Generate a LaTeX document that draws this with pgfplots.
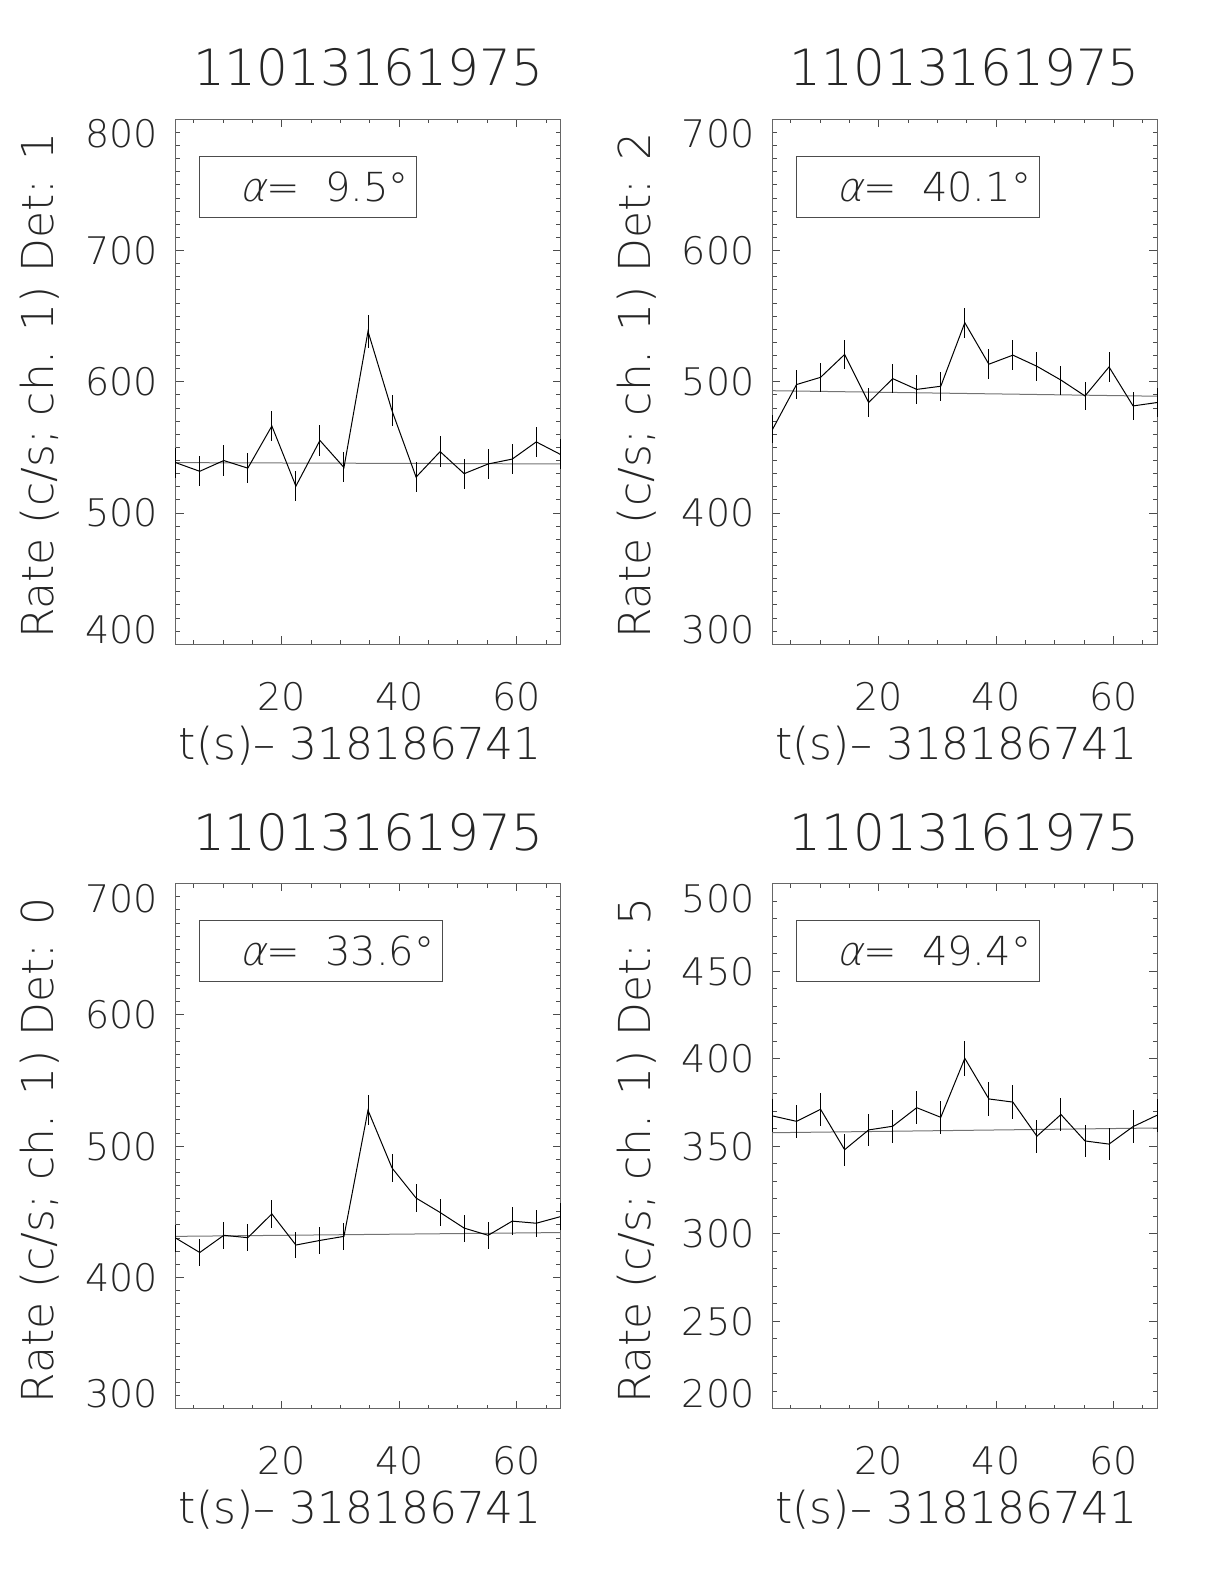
\documentclass[border=0pt]{standalone}
\usepackage{pgfplots}
\pgfplotsset{compat=1.18}
\usepackage{pgfplotstable}
\usepackage{fontspec}
\setmainfont{DejaVuSans-ExtraLight}[Extension=.ttf]
\newfontfamily\slantfont{DejaVuSans-ExtraLight}[Extension=.ttf, FakeSlant=0.25]
\newcommand{\ticksize}{\fontsize{19}{19}\selectfont}
\newcommand{\boxsize}{\fontsize{20}{20}\selectfont}

\pgfplotstableread{
x y e
1.900 538.4 11.46
5.996 531.8 11.40
10.092 540.0 11.48
14.188 534.2 11.42
18.284 566.3 11.76
22.380 520.5 11.27
26.476 555.3 11.64
30.572 534.7 11.43
34.668 638.4 12.48
38.764 577.9 11.88
42.860 527.4 11.35
46.956 546.8 11.55
51.052 530.0 11.38
55.148 537.4 11.45
59.244 541.1 11.49
63.340 554.2 11.63
67.436 544.7 11.53
}\dataA

\pgfplotstableread{
x y e
1.900 463.7 10.64
5.996 497.9 11.03
10.092 503.4 11.09
14.188 520.8 11.28
18.284 484.2 10.87
22.380 502.4 11.08
26.476 494.2 10.98
30.572 496.6 11.01
34.668 545.0 11.53
38.764 513.4 11.20
42.860 520.3 11.27
46.956 511.8 11.18
51.052 501.3 11.06
55.148 489.2 10.93
59.244 511.3 11.17
63.340 481.6 10.84
67.436 484.2 10.87
}\dataB

\pgfplotstableread{
x y e
1.900 430.0 10.25
5.996 419.0 10.11
10.092 432.1 10.27
14.188 430.3 10.25
18.284 448.4 10.46
22.380 424.7 10.18
26.476 428.2 10.22
30.572 431.3 10.26
34.668 527.4 11.35
38.764 483.4 10.86
42.860 460.5 10.60
46.956 449.5 10.48
51.052 437.6 10.34
55.148 432.1 10.27
59.244 442.9 10.40
63.340 441.3 10.38
67.436 446.3 10.44
}\dataC

\pgfplotstableread{
x y e
1.900 367.3 9.47
5.996 364.2 9.43
10.092 371.1 9.52
14.188 348.0 9.22
18.284 359.3 9.37
22.380 361.4 9.39
26.476 372.0 9.53
30.572 366.5 9.46
34.668 400.2 9.88
38.764 377.0 9.59
42.860 375.2 9.57
46.956 355.7 9.32
51.052 368.1 9.48
55.148 353.0 9.28
59.244 351.2 9.26
63.340 361.2 9.39
67.436 367.7 9.47
}\dataD

\pgfplotsset{
  panel/.style={
    width=192.3pt, height=262.5pt, scale only axis, anchor=south west,
    clip=false,
    xmin=1.9, xmax=67.436,
    xtick={20,40,60}, minor xtick={5,10,15,25,30,35,45,50,55,65},
    tick align=inside, major tick length=3.9pt, minor tick length=2pt,
    every tick/.style={black!70, line width=0.5pt},
    axis line style={black!60, line width=0.6pt},
    /pgf/number format/assume math mode=true,
    tick label style={font=\ticksize, inner sep=0pt, text=black!85},
    xticklabel style={anchor=north, yshift=-18.7pt},
    yticklabel style={anchor=east, xshift=-8.85pt},
    title style={at={(0.5,1)}, anchor=base, yshift=10.65pt, inner sep=0pt, font=\fontsize{25}{25}\selectfont, text=black!85},
    xlabel style={at={(0.5,0)}, anchor=base, yshift=-57.6pt, xshift=-4pt, inner sep=0pt, font=\fontsize{22}{22}\selectfont, text=black!85},
    ylabel style={at={([xshift=-60.85pt,yshift=-2pt]axis description cs:0,0.5)}, anchor=base, inner sep=0pt, font=\fontsize{22}{22}\selectfont, text=black!85},
    title={11013161975},
    xlabel={t(s)– 318186741},
  },
  dataline/.style={black, line width=0.5pt, mark=none,
    error bars/.cd, y dir=both, y explicit, error mark=none,
    error bar style={black, line width=0.5pt}},
  bgline/.style={black!55, line width=0.5pt, mark=none},
}

\begin{document}
\begin{tikzpicture}
\path[use as bounding box] (0,0) rectangle (612pt,792pt);

% Panel 1 (top left)
\begin{axis}[panel, at={(87.85pt,469.85pt)},
  ymin=400, ymax=800, ytick={400,500,600,700,800}, minor y tick num=9,
  yticklabels={{},500,600,700,{}},
  ylabel={Rate (c/s; ch. 1) Det: 1}]
\addplot[bgline] coordinates {(1.9,538.4) (67.436,537.4)};
\addplot[dataline] table[x=x, y=y, y error=e] {\dataA};
\draw[black!70, line width=0.5pt] (rel axis cs:0.062,0.8135) rectangle (rel axis cs:0.625,0.929);
\node[anchor=west, inner sep=0pt, font=\boxsize, text=black!85] at (rel axis cs:0.166,0.871) {{\slantfont α}=\ \ 9.5°};
\node[anchor=north east, inner sep=0pt, font=\ticksize, text=black!85] at ([xshift=-8.85pt]rel axis cs:0,1) {800};
\node[anchor=south east, inner sep=0pt, font=\ticksize, text=black!85] at ([xshift=-8.85pt]rel axis cs:0,0) {400};
\end{axis}

% Panel 2 (top right)
\begin{axis}[panel, at={(386.25pt,469.85pt)},
  ymin=300, ymax=700, ytick={300,400,500,600,700}, minor y tick num=9,
  yticklabels={{},400,500,600,{}},
  ylabel={Rate (c/s; ch. 1) Det: 2}]
\addplot[bgline] coordinates {(1.9,493.2) (67.436,489.0)};
\addplot[dataline] table[x=x, y=y, y error=e] {\dataB};
\draw[black!70, line width=0.5pt] (rel axis cs:0.062,0.8135) rectangle (rel axis cs:0.694,0.929);
\node[anchor=west, inner sep=0pt, font=\boxsize, text=black!85] at (rel axis cs:0.166,0.871) {{\slantfont α}=\ \ 40.1°};
\node[anchor=north east, inner sep=0pt, font=\ticksize, text=black!85] at ([xshift=-8.85pt]rel axis cs:0,1) {700};
\node[anchor=south east, inner sep=0pt, font=\ticksize, text=black!85] at ([xshift=-8.85pt]rel axis cs:0,0) {300};
\end{axis}

% Panel 3 (bottom left)
\begin{axis}[panel, at={(87.85pt,87.65pt)},
  ymin=300, ymax=700, ytick={300,400,500,600,700}, minor y tick num=9,
  yticklabels={{},400,500,600,{}},
  ylabel={Rate (c/s; ch. 1) Det: 0}]
\addplot[bgline] coordinates {(1.9,431.3) (67.436,434.2)};
\addplot[dataline] table[x=x, y=y, y error=e] {\dataC};
\draw[black!70, line width=0.5pt] (rel axis cs:0.062,0.8135) rectangle (rel axis cs:0.694,0.929);
\node[anchor=west, inner sep=0pt, font=\boxsize, text=black!85] at (rel axis cs:0.166,0.871) {{\slantfont α}=\ \ 33.6°};
\node[anchor=north east, inner sep=0pt, font=\ticksize, text=black!85] at ([xshift=-8.85pt]rel axis cs:0,1) {700};
\node[anchor=south east, inner sep=0pt, font=\ticksize, text=black!85] at ([xshift=-8.85pt]rel axis cs:0,0) {300};
\end{axis}

% Panel 4 (bottom right)
\begin{axis}[panel, at={(386.25pt,87.65pt)},
  ymin=200, ymax=500, ytick={200,250,300,350,400,450,500}, minor y tick num=4,
  yticklabels={{},250,300,350,400,450,{}},
  ylabel={Rate (c/s; ch. 1) Det: 5}]
\addplot[bgline] coordinates {(1.9,357.7) (67.436,360.4)};
\addplot[dataline] table[x=x, y=y, y error=e] {\dataD};
\draw[black!70, line width=0.5pt] (rel axis cs:0.062,0.8135) rectangle (rel axis cs:0.694,0.929);
\node[anchor=west, inner sep=0pt, font=\boxsize, text=black!85] at (rel axis cs:0.166,0.871) {{\slantfont α}=\ \ 49.4°};
\node[anchor=north east, inner sep=0pt, font=\ticksize, text=black!85] at ([xshift=-8.85pt]rel axis cs:0,1) {500};
\node[anchor=south east, inner sep=0pt, font=\ticksize, text=black!85] at ([xshift=-8.85pt]rel axis cs:0,0) {200};
\end{axis}
\end{tikzpicture}
\end{document}
